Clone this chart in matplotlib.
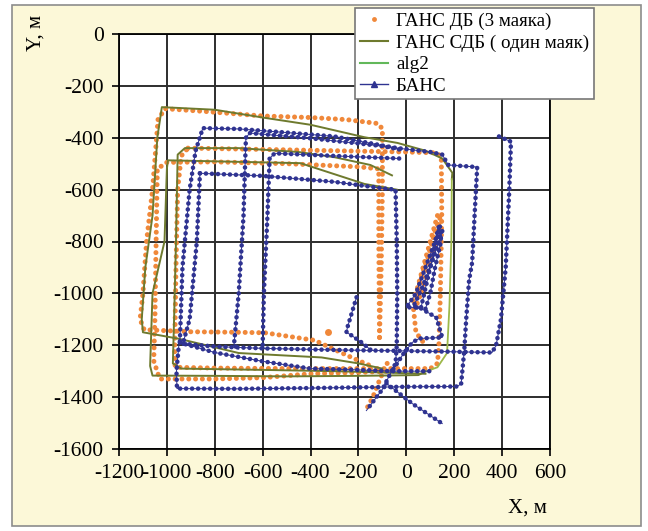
import numpy as np
import matplotlib.pyplot as plt
from matplotlib.lines import Line2D
from matplotlib.patches import Rectangle

plt.rcParams['font.family'] = ['Liberation Serif', 'DejaVu Serif']
plt.rcParams['axes.unicode_minus'] = False

# --- data (x, y in metres) ---
# ГАНС ДБ (3 маяка) - orange dots
db_outer = [(-112, -1170), (-105, -900), (-100, -600), (-100, -365), (-120, -345), (-250, -330),
            (-400, -322), (-600, -316), (-850, -298), (-1008, -288), (-1037, -330), (-1060, -600),
            (-1085, -800), (-1100, -1000), (-1112, -1100), (-1095, -1140), (-900, -1148),
            (-700, -1150), (-590, -1152), (-383, -1181), (-229, -1247), (-133, -1286)]
db_mid = [(-912, -440), (-600, -445), (-300, -450), (0, -455), (120, -458), (146, -470),
          (148, -700), (142, -1000), (136, -1200), (130, -1270), (100, -1290), (-200, -1290),
          (-500, -1290), (-800, -1288), (-965, -1285), (-968, -1250), (-962, -900),
          (-955, -600), (-940, -470), (-912, -440)]
db_inner = [(-112, -1170), (-115, -800), (-115, -520), (-200, -512), (-500, -500), (-800, -493),
            (-1000, -495), (-1040, -520), (-1045, -800), (-1050, -1100), (-1055, -1260),
            (-1030, -1330), (-800, -1330), (-600, -1325), (-400, -1310), (-200, -1305), (-80, -1300)]
db_spike = [(130, -700), (100, -800), (70, -900), (40, -1000), (25, -1030), (45, -1040),
            (80, -950), (110, -850), (135, -740), (140, -710), (120, -760), (90, -860),
            (55, -960), (30, -1060), (40, -1150), (80, -1200)]
db_tail = [(-80, -1270), (-110, -1330), (-140, -1400), (-170, -1452)]
db_dot = [(-329, -1150)]

# ГАНС СДБ (один маяк) - olive line
sdb_outer = [(-100, -1290), (-200, -1270), (-354, -1247), (-700, -1230), (-950, -1175),
             (-1100, -1150), (-1105, -1100), (-1090, -900), (-1060, -700), (-1040, -400),
             (-1021, -282), (-800, -292), (-600, -322), (-400, -350), (-175, -398), (-37, -420),
             (80, -450), (150, -480), (192, -535), (190, -560)]
sdb_mid = [(-40, -600), (-175, -578), (-442, -498), (-996, -487), (-1000, -520), (-1010, -800),
           (-1060, -1000), (-1070, -1280), (-1060, -1317), (-800, -1318), (-500, -1320),
           (-200, -1318), (50, -1315), (83, -1300)]
sdb_inner = [(-60, -545), (-150, -505), (-300, -475), (-450, -455), (-700, -440), (-925, -440),
             (-955, -465), (-962, -800), (-970, -1100), (-975, -1270), (-940, -1290),
             (-600, -1295), (-300, -1300), (-100, -1305), (80, -1310)]

# alg2 - green line
alg2_path = [(190, -560), (188, -800), (180, -1050), (170, -1230), (130, -1285), (83, -1300)]

# БАНС - navy triangles
bans_outer = [(387, -395), (437, -415), (430, -600), (415, -900), (395, -1100), (375, -1200),
              (358, -1228), (200, -1225), (0, -1222), (-300, -1218), (-600, -1212), (-800, -1205),
              (-946, -1193), (-935, -900), (-905, -600), (-880, -450), (-850, -363), (-700, -366),
              (-500, -380), (-300, -395), (-100, -430), (-37, -440), (100, -455), (150, -465),
              (175, -505), (296, -513), (285, -700), (275, -880), (262, -950), (250, -1100),
              (242, -1220), (229, -1348), (213, -1359), (0, -1360), (-400, -1365), (-700, -1368),
              (-958, -1367), (-960, -1300), (-950, -1200)]
bans_inner = [(-862, -537), (-600, -547), (-300, -570), (-100, -595), (-45, -600), (-40, -800),
              (-38, -1000), (-40, -1200), (-45, -1270), (-100, -1370), (-167, -1452)]
bans_left = [(-862, -537), (-875, -800), (-905, -1100), (-935, -1200)]
bans_col2 = [(-30, -445), (-100, -432), (-400, -402), (-654, -382), (-670, -400), (-680, -700),
             (-700, -1000), (-720, -1200), (-700, -1215)]
bans_col3 = [(-30, -480), (-300, -470), (-550, -460), (-571, -480), (-580, -700), (-595, -1000),
             (-600, -1200), (-590, -1215)]
bans_low = [(-946, -1190), (-800, -1228), (-600, -1262), (-400, -1290), (-200, -1295),
            (-60, -1300), (100, -1300)]
bans_spike = [(135, -745), (120, -800), (80, -900), (40, -1000), (0, -1054), (54, -1054),
              (125, -1093), (150, -1170), (54, -1174), (25, -1189), (-10, -1230), (-60, -1300)]
bans_spike2 = [(150, -760), (110, -870), (70, -970), (30, -1050), (60, -1060), (140, -740),
               (145, -800), (120, -900), (100, -1000), (80, -1060)]
bans_hook = [(-208, -1015), (-246, -1131), (-250, -1150), (-229, -1162), (-187, -1189), (-146, -1220)]
bans_tail = [(-83, -1347), (25, -1425), (150, -1502)]

orange = '#F0883A'
olive = '#6E7A2E'
green = '#62B85A'
navy = '#2F3391'

fig = plt.figure(figsize=(6.48, 5.31), dpi=100, facecolor='white')
fig.patches.append(Rectangle((12 / 648, 5 / 531), 629 / 648, 521 / 531, transform=fig.transFigure,
                             facecolor='#FCF8D8', edgecolor='#8C8C8C', lw=1.2, zorder=-10))
ax = fig.add_axes([119 / 648, 1 - 449 / 531, 431 / 648, 415 / 531])
ax.set_facecolor('white')


def xy(path):
    a = np.array(path, dtype=float)
    return a[:, 0], a[:, 1]


for p in [db_outer, db_mid, db_inner, db_spike, db_tail]:
    x, y = xy(p)
    ax.plot(x, y, color=orange, lw=3.6, ls=(0, (0.01, 1.35)), dash_capstyle='round', zorder=3)
x, y = xy(db_dot)
ax.plot(x, y, 'o', color=orange, ms=5, mew=0, zorder=3)

for p in [sdb_outer, sdb_mid, sdb_inner]:
    x, y = xy(p)
    ax.plot(x, y, color=olive, lw=1.4, zorder=4)

x, y = xy(alg2_path)
ax.plot(x, y, color='#9DB84A', lw=1.3, zorder=4)

for p in [bans_outer, bans_inner, bans_left, bans_col2, bans_col3, bans_low,
          bans_spike, bans_spike2, bans_hook, bans_tail]:
    x, y = xy(p)
    ax.plot(x, y, color=navy, lw=0.7, zorder=5)
    ax.plot(x, y, color=navy, lw=3.3, ls=(0, (0.01, 1.3)), dash_capstyle='round', zorder=5)

ax.set_xlim(-1200, 600)
ax.set_ylim(-1600, 0)
ax.set_xticks(np.arange(-1200, 601, 200))
ax.set_yticks(np.arange(-1600, 1, 200))
ax.grid(True, color='#2E2E2E', lw=1.4, zorder=1)
ax.set_axisbelow(True)
ax.tick_params(direction='out', length=5, width=1.2, pad=6, labelsize=15.5, top=False, right=False)
for s in ax.spines.values():
    s.set_color('black')
    s.set_linewidth(1.3)

fig.text(36 / 648, 1 - 33 / 531, 'Y, м', rotation=90, ha='center', va='center', fontsize=15)
fig.text(527 / 648, 1 - 508 / 531, 'X, м', ha='center', va='center', fontsize=15)

handles = [Line2D([], [], ls='none', marker='o', ms=3.5, mew=0, color=orange),
           Line2D([], [], color=olive, lw=1.5),
           Line2D([], [], color=green, lw=1.5),
           Line2D([], [], color=navy, lw=1, marker='^', ms=4)]
labels = ['ГАНС ДБ (3 маяка)', 'ГАНС СДБ ( один маяк)', 'alg2', 'БАНС']
leg = ax.legend(handles, labels, loc='upper left', bbox_to_anchor=(355 / 648, 1 - 8 / 531),
                bbox_transform=fig.transFigure, borderaxespad=0, fontsize=13.7, frameon=True,
                fancybox=False, framealpha=1, edgecolor='#777777', handlelength=1.5,
                handletextpad=0.4, labelspacing=0.22, borderpad=0.25)
leg.get_frame().set_linewidth(1.2)
leg.set_zorder(10)

fig.savefig('out.png', dpi=100, facecolor=fig.get_facecolor())
